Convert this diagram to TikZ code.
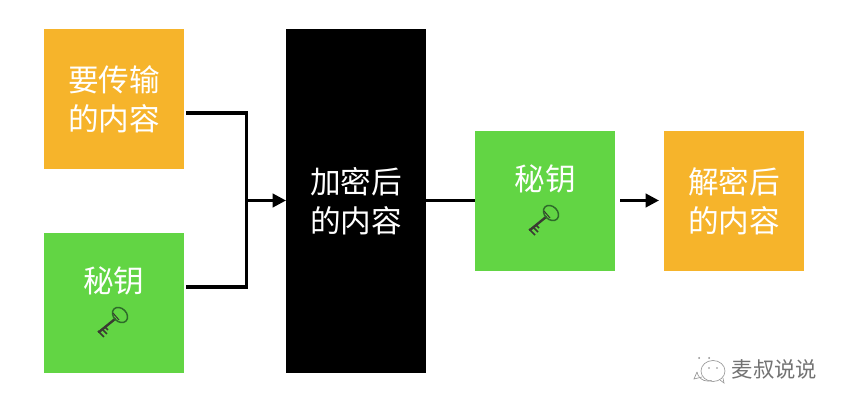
\documentclass[tikz,border=0pt]{standalone}
\usepackage{fontspec}
\setmainfont{Noto Sans CJK SC}
\usetikzlibrary{arrows.meta,calc}
\definecolor{orangebox}{HTML}{F6B42B}
\definecolor{greenbox}{HTML}{62D544}
\definecolor{keydark}{HTML}{3A3A32}
\definecolor{keygreen}{HTML}{2E6B2A}
\tikzset{
  x=0.75pt,y=-0.75pt,
  boxbase/.style={minimum width=105pt,minimum height=105pt,inner sep=0pt,outer sep=0pt,text=white,align=center,font=\fontsize{23}{29.5}\selectfont,anchor=center},
  orangebox/.style={boxbase,fill=orangebox},
  greenbox/.style={boxbase,fill=greenbox},
  blackbox/.style={boxbase,fill=black,minimum height=258pt},
  conn/.style={line width=2.5pt,draw=black},
  arrowconn/.style={line width=2.2pt,draw=black,-{Triangle[length=10pt,width=10pt]}},
  keylabel/.style={text=white,font=\fontsize{23}{29.5}\selectfont,inner sep=0pt},
  pics/keyicon/.style={code={
    \draw[keydark,line width=1.8pt,line cap=round] (-14,10) -- (2,-3);
    \draw[keydark,line width=1.3pt] (-15,9) -- (-9,15) (-11,7) -- (-6,12) (-8,5) -- (-5,8);
    \draw[keygreen,line width=1.1pt] (7,-7) ellipse [x radius=8.5,y radius=6.5,rotate=-45];
    \draw[keydark,line width=0.8pt] (0,-9) -- (6,-2);
  }}
}
\begin{document}
\begin{tikzpicture}
\useasboundingbox (0,0) rectangle (844,406);
\fill[white] (0,0) rectangle (844,406);
\node[orangebox] (src) at (114,99) {要传输\\的内容};
\node[greenbox] (keya) at (114,303) {};
\node[blackbox] (enc) at (356,201) {加密后\\的内容};
\node[greenbox] (keyb) at (545,201) {};
\node[orangebox] (dec) at (734,201) {解密后\\的内容};
\node[keylabel] (keyalabel) at (114,281) {秘钥};
\node[keylabel] (keyblabel) at (545,179) {秘钥};
\pic at (113,322) {keyicon};
\pic at (544,220) {keyicon};
\coordinate (j1) at (246.5,113);
\coordinate (j2) at (246.5,287);
\coordinate (j3) at (246.5,200.5);
\coordinate (s1) at (186,113);
\coordinate (s2) at (186,287);
\draw[conn,line join=miter] (s1) -- (j1) -- (j2) -- (s2);
\draw[arrowconn] (j3) -- (j3 -| enc.west);
\coordinate (m1) at (426,200.5);
\draw[conn] (m1) -- (m1 -| keyb.west);
\coordinate (g1) at (620,200.5);
\coordinate (g2) at (659,200.5);
\draw[arrowconn] (g1) -- (g2);
% watermark
\begin{scope}[draw=black!40,line width=0.5pt]
\draw (697,372) arc[start angle=170,end angle=70,radius=11];
\draw (697,372) -- (694,379) -- (702,377);
\draw (713,371) circle [x radius=12,y radius=10.5];
\draw (720,380) -- (724,383) -- (723,378);
\fill[black!45] (699,358) circle (1);
\fill[black!45] (709,358) circle (1);
\fill[black!45] (709,368) circle (0.9);
\fill[black!45] (717,368) circle (0.9);
\end{scope}
\node[text=black!55,font=\fontsize{16}{18}\selectfont,inner sep=0pt] (mark) at (774.5,369) {麦叔说说};
\end{tikzpicture}
\end{document}
